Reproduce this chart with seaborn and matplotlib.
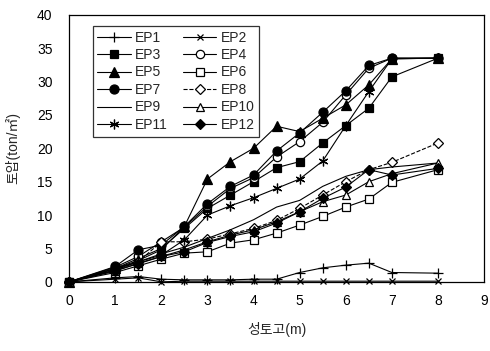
import matplotlib
matplotlib.use("Agg")
import matplotlib.pyplot as plt
import seaborn as sns
import pandas as pd

sns.set_theme(style="white")
plt.rcParams['font.family'] = ['Liberation Sans', 'Noto Sans CJK KR', 'DejaVu Sans']

# embankment height (m)
height = [0, 1, 1.5, 2, 2.5, 3, 3.5, 4, 4.5, 5, 5.5, 6, 6.5, 7, 8]

# earth pressure (ton/m2) at each gauge
ep1 = [0, 0.6, 0.8, 0.4, 0.3, 0.3, 0.3, 0.4, 0.4, 1.4, 2.1, 2.5, 2.8, 1.4, 1.3]
ep2 = [0, 0.4, 0.6, 0.0, 0.1, 0.1, 0.1, 0.1, 0.1, 0.1, 0.1, 0.1, 0.1, 0.1, 0.1]
ep3 = [0, 2.0, 3.5, 5.0, 8.0, 11.0, 13.0, 15.0, 17.1, 18.0, 20.8, 23.4, 26.0, 30.7, 33.5]
ep4 = [0, 2.2, 3.8, 6.0, 8.2, 11.3, 14.0, 15.6, 18.7, 21.0, 23.9, 28.0, 32.0, 33.5, 33.5]
ep5 = [0, 2.0, 3.2, 4.8, 8.3, 15.4, 18.0, 20.0, 23.3, 22.5, 24.5, 26.5, 29.5, 33.4, 33.5]
ep6 = [0, 1.4, 2.4, 3.4, 4.3, 4.5, 5.8, 6.3, 7.3, 8.5, 9.8, 11.2, 12.4, 14.9, 16.8]
ep7 = [0, 2.3, 4.8, 5.5, 8.3, 11.7, 14.3, 16.0, 19.6, 22.3, 25.4, 28.6, 32.4, 33.5, 33.5]
ep8 = [0, 1.8, 3.0, 6.0, 6.0, 6.4, 7.2, 8.0, 9.2, 11.0, 13.0, 15.0, 16.8, 17.9, 20.8]
ep9 = [0, 1.8, 3.0, 4.2, 5.2, 6.5, 7.8, 9.3, 11.2, 12.2, 14.3, 15.8, 16.8, 17.2, 17.8]
ep10 = [0, 1.6, 2.8, 3.8, 4.8, 6.0, 7.0, 7.8, 9.0, 10.5, 12.0, 13.0, 15.0, 16.2, 17.8]
ep11 = [0, 2.0, 3.0, 4.0, 6.3, 10.0, 11.4, 12.6, 14.0, 15.4, 18.1, 23.4, 28.5, 33.4, 33.5]
ep12 = [0, 1.7, 2.7, 3.8, 4.5, 5.9, 6.8, 7.5, 8.8, 10.5, 12.5, 14.2, 16.8, 16.0, 17.0]

series = {
    "EP1": ep1, "EP2": ep2, "EP3": ep3, "EP4": ep4,
    "EP5": ep5, "EP6": ep6, "EP7": ep7, "EP8": ep8,
    "EP9": ep9, "EP10": ep10, "EP11": ep11, "EP12": ep12,
}

styles = {
    "EP1": dict(marker="+", ms=7, mfc="black", ls="-"),
    "EP2": dict(marker="x", ms=5, mfc="black", ls="-"),
    "EP3": dict(marker="s", ms=6, mfc="black", ls="-"),
    "EP4": dict(marker="o", ms=6, mfc="white", ls="-"),
    "EP5": dict(marker="^", ms=6.5, mfc="black", ls="-"),
    "EP6": dict(marker="s", ms=6, mfc="white", ls="-"),
    "EP7": dict(marker="o", ms=6.5, mfc="black", ls="-"),
    "EP8": dict(marker="D", ms=5, mfc="white", ls="--"),
    "EP9": dict(marker=None, ms=0, mfc="black", ls="-"),
    "EP10": dict(marker="^", ms=6, mfc="white", ls="-"),
    "EP11": dict(marker=(6, 2, 0), ms=7, mfc="black", ls="-"),
    "EP12": dict(marker="D", ms=5.5, mfc="black", ls="-"),
}

fig = plt.figure(figsize=(4.9, 3.51), dpi=100)
ax = fig.add_axes([0.141, 0.197, 0.847, 0.761])

for name, vals in series.items():
    st = styles[name]
    df = pd.DataFrame({"h": height, "p": vals})
    sns.lineplot(data=df, x="h", y="p", ax=ax, color="black", lw=0.8,
                 linestyle=st["ls"], marker=st["marker"], markersize=st["ms"],
                 markerfacecolor=st["mfc"], markeredgecolor="black",
                 markeredgewidth=0.9, label=name, clip_on=False)

ax.set_xlim(0, 9)
ax.set_ylim(0, 40)
ax.set_xticks(range(0, 10))
ax.set_yticks(range(0, 41, 5))
ax.tick_params(direction="in", length=3, width=0.8, labelsize=10, colors="black")
ax.tick_params(axis="x", pad=9)
ax.tick_params(axis="y", pad=12)
for sp in ax.spines.values():
    sp.set_color("black")
    sp.set_linewidth(0.9)

ax.set_xlabel("성토고(m)", fontsize=10, labelpad=10)
ax.set_ylabel("토압(ton/㎡)", fontsize=10, labelpad=12)

# two columns filled row by row: EP1 EP2 / EP3 EP4 / ...
handles, labels = ax.get_legend_handles_labels()
order = list(range(0, 12, 2)) + list(range(1, 12, 2))
leg = ax.legend([handles[i] for i in order], [labels[i] for i in order],
                ncol=2, loc="upper left", bbox_to_anchor=(0.04, 0.985),
                fontsize=10, frameon=True, fancybox=False, edgecolor="black",
                handlelength=2.4, handletextpad=0.3, columnspacing=1.1,
                labelspacing=0.25, borderpad=0.35)
leg.get_frame().set_linewidth(0.9)

fig.savefig("out.png", dpi=100, facecolor="white")
